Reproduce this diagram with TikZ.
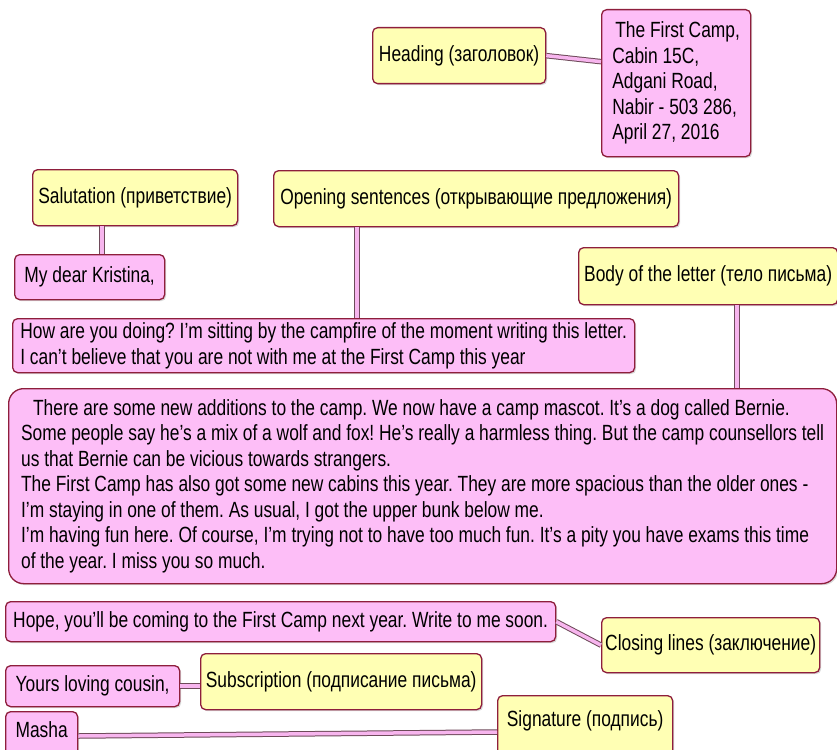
\documentclass[tikz,border=0pt]{standalone}
\usepackage{fontspec}
\setmainfont[FakeStretch=0.79]{Liberation Sans}
\usetikzlibrary{shadows}
\definecolor{bord}{HTML}{8E1E3C}
\definecolor{yel}{HTML}{FFFFB4}
\definecolor{pnk}{HTML}{FDBEF7}
\definecolor{cdark}{HTML}{6E4A5A}
\definecolor{cpink}{HTML}{F7B5EE}
\tikzset{
  lbl/.style={draw=bord, line width=1.3pt, rounded corners=5pt, inner xsep=0pt, inner ysep=0pt,
    anchor=north west, font=\frenchspacing\fontsize{22}{25.5}\selectfont,
    drop shadow={shadow xshift=1.5pt, shadow yshift=-1.5pt, opacity=0.3}},
  ybox/.style={lbl, fill=yel},
  pbox/.style={lbl, fill=pnk},
  conn/.style={draw=cdark, line width=1pt, double=cpink, double distance=3.5pt},
}
\begin{document}
\begin{tikzpicture}[x=1pt, y=-1pt]
\useasboundingbox (0,0) rectangle (837,749);
% heading
\node[ybox, minimum width=173, minimum height=56] (heading) at (372,27) {Heading (заголовок)};
\node[pbox, minimum width=149, minimum height=147, align=left] (addr) at (601,9)
  {\hspace{3pt}The First Camp,\\Cabin 15C,\\Adgani Road,\\Nabir - 503 286,\\April 27, 2016};
% salutation
\node[ybox, minimum width=205, minimum height=56] (sal) at (32,169) {Salutation (приветствие)};
\node[pbox, minimum width=150, minimum height=45] (kris) at (14,254) {My dear Kristina,};
% opening
\node[ybox, minimum width=405, minimum height=56] (open) at (273,170) {Opening sentences (открывающие предложения)};
\node[pbox, minimum width=622, minimum height=54, align=left] (opentext) at (12,318)
  {How are you doing? I’m sitting by the campfire of the moment writing this letter.\\I can’t believe that you are not with me at the First Camp this year};
% body
\node[ybox, minimum width=259, minimum height=57] (bodyl) at (578,247) {Body of the letter (тело письма)};
\node[pbox, rounded corners=15pt, minimum width=828, minimum height=195, align=left] (body) at (8,388)
  {\hspace{12pt}There are some new additions to the camp. We now have a camp mascot. It’s a dog called Bernie.\\
   Some people say he’s a mix of a wolf and fox! He’s really a harmless thing. But the camp counsellors tell\\
   us that Bernie can be vicious towards strangers.\\
   The First Camp has also got some new cabins this year. They are more spacious than the older ones -\\
   I’m staying in one of them. As usual, I got the upper bunk below me.\\
   I’m having fun here. Of course, I’m trying not to have too much fun. It’s a pity you have exams this time\\
   of the year. I miss you so much.};
% closing
\node[pbox, minimum width=550, minimum height=40] (hope) at (5,601) {Hope, you’ll be coming to the First Camp next year. Write to me soon.};
\node[ybox, minimum width=218, minimum height=55] (closing) at (601,617) {Closing lines (заключение)};
% subscription
\node[pbox, minimum width=174, minimum height=41] (yours) at (5,665) {Yours loving cousin,};
\node[ybox, minimum width=281, minimum height=56] (subs) at (200,653) {Subscription (подписание письма)};
% signature
\node[pbox, minimum width=72, text height=26pt, text depth=22pt] (masha) at (5,711) {Masha};
\node[ybox, minimum width=175, text height=31pt, text depth=30pt] (sig) at (497,695) {Signature (подпись)};
% connectors
\draw[conn] (heading.east) -- ([yshift=-6pt]heading.east -| addr.west);
\draw[conn] (sal.south -| 102,0) -- (kris.north -| 102,0);
\draw[conn] (open.south -| 357,0) -- (opentext.north -| 357,0);
\draw[conn] (bodyl.south -| 737,0) -- (body.north -| 737,0);
\draw[conn] (hope.east) -- (closing.west);
\draw[conn] (yours.east) -- (yours.east -| subs.west);
\draw[conn] ([yshift=-25pt]masha.north east) -- ([yshift=-37pt]sig.north west);
\end{tikzpicture}
\end{document}
